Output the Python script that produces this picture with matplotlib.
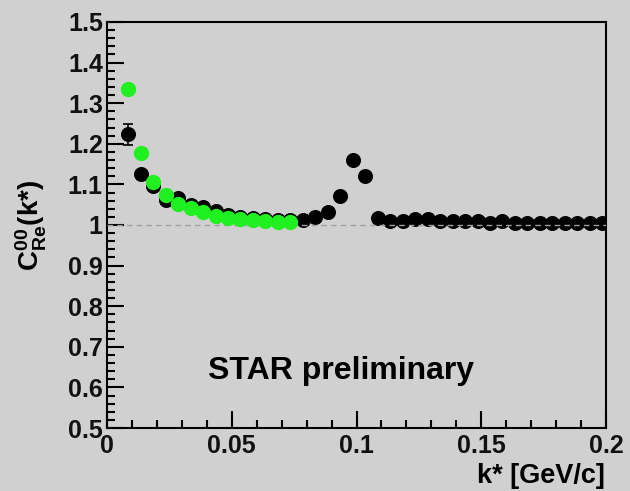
import matplotlib
matplotlib.use('Agg')
from matplotlib import pyplot as plt
from matplotlib.ticker import MultipleLocator

plt.rcParams['font.family'] = ['Liberation Sans', 'DejaVu Sans']
plt.rcParams['mathtext.fontset'] = 'custom'
plt.rcParams['mathtext.rm'] = 'Liberation Sans'
plt.rcParams['mathtext.bf'] = 'Liberation Sans:bold'

# black points (full k* range)
kstar_black = [0.0085, 0.0135, 0.0185, 0.0235, 0.0285, 0.0335, 0.0385, 0.0435,
               0.0485, 0.0535, 0.0585, 0.0635, 0.0685, 0.0735, 0.0785, 0.0835,
               0.0885, 0.0935, 0.0985, 0.1035, 0.1085, 0.1135, 0.1185, 0.1235,
               0.1285, 0.1335, 0.1385, 0.1435, 0.1485, 0.1535, 0.1585, 0.1635,
               0.1685, 0.1735, 0.1785, 0.1835, 0.1885, 0.1935, 0.1985]
c_black = [1.223, 1.125, 1.095, 1.062, 1.066, 1.050, 1.044, 1.035,
           1.024, 1.020, 1.018, 1.015, 1.013, 1.012, 1.013, 1.019,
           1.032, 1.071, 1.159, 1.120, 1.018, 1.009, 1.009, 1.015,
           1.015, 1.009, 1.009, 1.011, 1.011, 1.004, 1.011, 1.004,
           1.004, 1.004, 1.004, 1.004, 1.004, 1.004, 1.004]
err_black = [0.025] + [0.005] * 38

# green points (low k*)
kstar_green = [0.0085, 0.0135, 0.0185, 0.0235, 0.0285, 0.0335, 0.0385,
               0.0435, 0.0485, 0.0535, 0.0585, 0.0635, 0.0685, 0.0735]
c_green = [1.336, 1.178, 1.106, 1.073, 1.052, 1.042, 1.032,
           1.023, 1.018, 1.015, 1.013, 1.009, 1.007, 1.007]

bg = '#d0d0d0'
fig = plt.figure(figsize=(6.3, 4.91), dpi=100, facecolor=bg)
ax = fig.add_axes([107/630, 63/491, 499/630, 406/491], facecolor=bg)

ax.errorbar(kstar_black, c_black, yerr=err_black, fmt='o', color='black',
            ms=9.8, capsize=3.5, elinewidth=1.2, capthick=1.2, zorder=2)
ax.axhline(1.0, color='#a0a0a0', ls=(0, (4, 3)), lw=1.0, zorder=3)
ax.plot(kstar_green, c_green, 'o', color='#20f020', ms=10, zorder=4)

ax.set_xlim(0, 0.2)
ax.set_ylim(0.5, 1.5)
ax.xaxis.set_minor_locator(MultipleLocator(0.01))
ax.yaxis.set_minor_locator(MultipleLocator(0.02))
ax.set_xticks([0, 0.05, 0.1, 0.15, 0.2])
ax.set_xticklabels(['0', '0.05', '0.1', '0.15', '0.2'])
ax.set_yticks([0.5, 0.6, 0.7, 0.8, 0.9, 1.0, 1.1, 1.2, 1.3, 1.4, 1.5])
ax.set_yticklabels(['0.5', '0.6', '0.7', '0.8', '0.9', '1', '1.1', '1.2',
                    '1.3', '1.4', '1.5'])

for s in ax.spines.values():
    s.set_linewidth(1.5)
ax.tick_params(which='both', direction='in', top=False, right=False, width=1.5,
               labelsize=18)
ax.tick_params(which='major', length=12)
ax.tick_params(which='minor', length=6)
ax.tick_params(axis='x', pad=4)
ax.tick_params(axis='y', pad=3)
for lbl in ax.get_xticklabels() + ax.get_yticklabels():
    lbl.set_fontweight('bold')
    lbl.set_color('#111111')

ax.text(0.0936, 0.621, 'STAR preliminary', fontsize=23, fontweight='bold',
        ha='center', va='baseline')

fig.text(605/630, 1 - 476/491, 'k* [GeV/c]', fontsize=19.5, fontweight='bold',
         ha='right', va='center')
fig.text(31/630, 1 - 225/491, r'$\mathbf{C^{00}_{Re}}$(k*)', fontsize=20,
         fontweight='bold', rotation=90, ha='center', va='center')

fig.savefig('out.png', dpi=100, facecolor=bg)
